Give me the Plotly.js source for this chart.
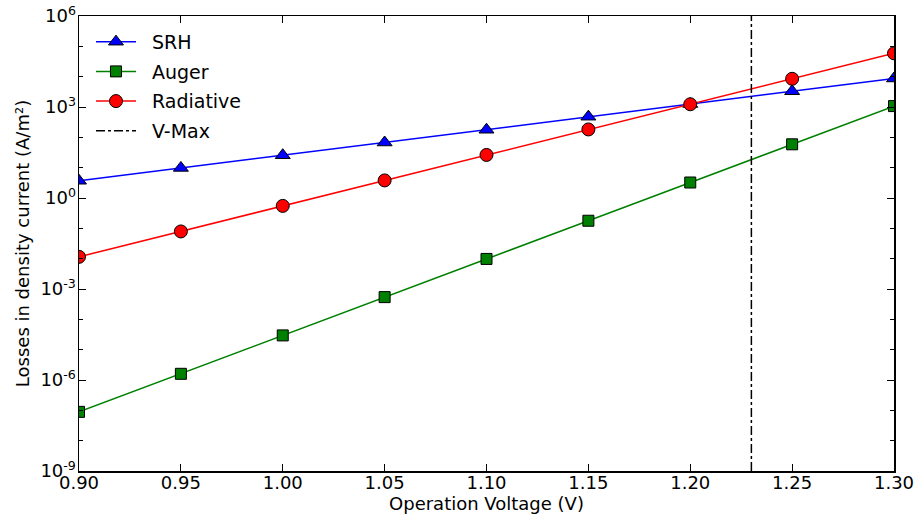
<!DOCTYPE html>
<html><head><meta charset="utf-8">
<script src="https://cdn.plot.ly/plotly-3.0.1.min.js"></script>
<style>html,body{margin:0;padding:0;background:#fff}#chart{width:922px;height:519px}</style>
</head><body><div id="chart"></div>
<script>
const voltage = [0.90, 0.95, 1.00, 1.05, 1.10, 1.15, 1.20, 1.25, 1.30];
const srh = [3.7, 9.8, 25.7, 67.6, 178, 479, 1259, 3311, 8710];
const auger = [8.9e-8, 1.6e-6, 2.95e-5, 5.4e-4, 9.8e-3, 0.178, 3.24, 58.9, 1072];
const radiative = [0.0115, 0.079, 0.55, 3.8, 26.3, 182, 1230, 8510, 58900];
const vMax = 1.23;
const yLimits = [1e-9, 1e6];
const yTickVals = [1e-9, 1e-6, 1e-3, 1e0, 1e3, 1e6];
const yTickText = ['10<sup>-9</sup>', '10<sup>-6</sup>', '10<sup>-3</sup>', '10<sup>0</sup>', '10<sup>3</sup>', '10<sup>6</sup>'];
const yMinorVals = [1e-8, 1e-7, 1e-5, 1e-4, 1e-2, 1e-1, 1e1, 1e2, 1e4, 1e5];
const xTickVals = [0.90, 0.95, 1.00, 1.05, 1.10, 1.15, 1.20, 1.25, 1.30];
const xTickText = ['0.90', '0.95', '1.00', '1.05', '1.10', '1.15', '1.20', '1.25', '1.30'];

const font = {family: 'DejaVu Sans, sans-serif', size: 18, color: '#000'};
const legFont = {family: 'DejaVu Sans, sans-serif', size: 19, color: '#000'};
const mk = (sym, col, size) => ({symbol: sym, color: col, size: size, line: {color: '#000', width: 1}});

const traces = [
  {x: voltage, y: srh, name: 'SRH', legendgroup: 'a', mode: 'lines+markers', line: {color: '#0000ff', width: 1.5}, marker: mk('triangle-up', '#0000ff', 13)},
  {x: voltage, y: auger, name: 'Auger', legendgroup: 'b', mode: 'lines+markers', line: {color: '#008000', width: 1.5}, marker: mk('square', '#008000', 11)},
  {x: voltage, y: radiative, name: 'Radiative', legendgroup: 'c', mode: 'lines+markers', line: {color: '#ff0000', width: 1.5}, marker: mk('circle', '#ff0000', 13)},
  {x: [vMax, vMax], y: yLimits, name: 'V-Max', legendgroup: 'd', mode: 'lines', line: {color: '#000', width: 1.5, dash: 'dashdot'}}
];

const layout = {
  width: 922, height: 519,
  margin: {l: 79, r: 28, t: 16, b: 48},
  paper_bgcolor: '#fff', plot_bgcolor: '#fff',
  font: font,
  showlegend: true,
  legend: {x: 0.0147, y: 0.985, xanchor: 'left', yanchor: 'top', bgcolor: 'rgba(0,0,0,0)', borderwidth: 0, font: legFont, itemwidth: 51, tracegroupgap: 2},
  xaxis: {
    range: [0.90, 1.30], tickmode: 'array', tickvals: xTickVals, ticktext: xTickText,
    ticks: 'inside', ticklen: 7, tickwidth: 1, tickcolor: '#000', ticklabelstandoff: -5,
    showline: true, linecolor: '#000', linewidth: 1.5, mirror: 'ticks',
    showgrid: false, zeroline: false, tickfont: font,
    title: {text: 'Operation Voltage (V)', font: font, standoff: 0}
  },
  yaxis: {
    type: 'log', range: [-9, 6], tickmode: 'array', tickvals: yTickVals, ticktext: yTickText,
    ticks: 'inside', ticklen: 7, tickwidth: 1, tickcolor: '#000', ticklabelstandoff: -2,
    minor: {tickmode: 'array', tickvals: yMinorVals, ticks: 'inside', ticklen: 4, tickcolor: '#000', showgrid: false},
    showline: true, linecolor: '#000', linewidth: 1.5, mirror: 'ticks',
    showgrid: false, zeroline: false, tickfont: font,
    title: {text: 'Losses in density current (A/m²)', font: font, standoff: 6}
  }
};

Plotly.newPlot('chart', traces, layout, {displayModeBar: false, staticPlot: true}).then(function (gd) {
  // widen legend sample lines to match the reference's longer handles
  gd.querySelectorAll('.legend .legendlines path').forEach(function (p) { p.setAttribute('d', 'M5,0h40'); });
  gd.querySelectorAll('.legend .legendpoints path').forEach(function (p) {
    p.setAttribute('transform', 'translate(25,0)');
  });
});
</script></body></html>
